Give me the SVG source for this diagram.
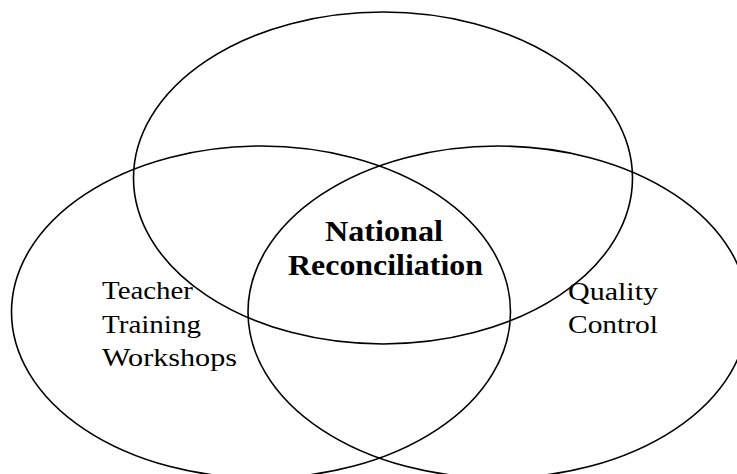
<svg xmlns="http://www.w3.org/2000/svg" width="737" height="474" viewBox="0 0 737 474">
<style>
.c{fill:none;stroke:#000;stroke-width:1.6}
.t{font-family:"Liberation Serif","Times New Roman",serif;font-size:26px;fill:#000}
.b{font-family:"Liberation Serif","Times New Roman",serif;font-size:30px;font-weight:bold;fill:#000}
</style>
<rect width="737" height="474" fill="#fff"/>
<g id="top"><ellipse class="c" cx="383" cy="178" rx="249.5" ry="166"/></g>
<g id="left"><ellipse class="c" cx="261" cy="312" rx="249.5" ry="166"/>
<text class="t" x="102" y="299" textLength="91" lengthAdjust="spacingAndGlyphs">Teacher</text>
<text class="t" x="102" y="333" textLength="99" lengthAdjust="spacingAndGlyphs">Training</text>
<text class="t" x="102" y="366" textLength="135" lengthAdjust="spacingAndGlyphs">Workshops</text>
</g>
<g id="right"><ellipse class="c" cx="498" cy="312" rx="250" ry="166"/>
<text class="t" x="568" y="300" textLength="90" lengthAdjust="spacingAndGlyphs">Quality</text>
<text class="t" x="568" y="333" textLength="90" lengthAdjust="spacingAndGlyphs">Control</text>
</g>
<g id="center">
<text class="b" x="325" y="241" textLength="118" lengthAdjust="spacingAndGlyphs">National</text>
<text class="b" x="288" y="275" textLength="195" lengthAdjust="spacingAndGlyphs">Reconciliation</text>
</g>
<g id="connectors"/>
</svg>
